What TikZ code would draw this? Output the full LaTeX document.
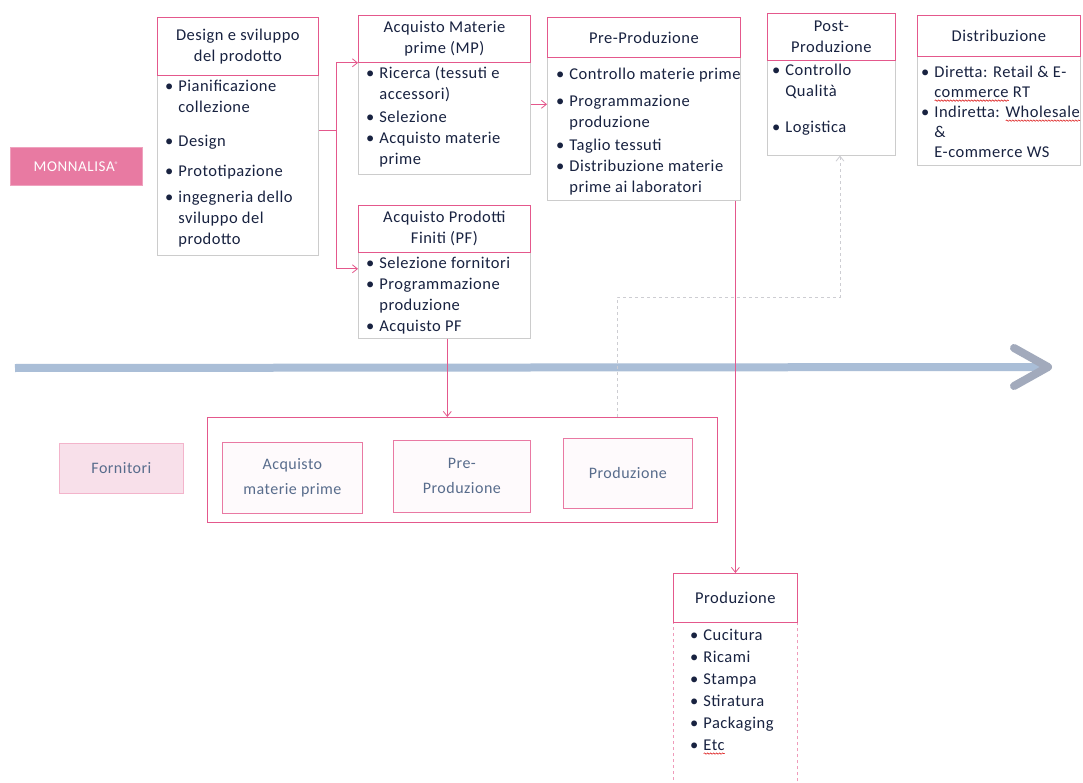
\documentclass[tikz,border=0pt]{standalone}
\usepackage{fontspec}
\setmainfont{Carlito}[LetterSpace=3]
\usetikzlibrary{arrows.meta,decorations.pathmorphing}
\definecolor{pk}{RGB}{228,88,140}
\definecolor{pkfill}{RGB}{232,122,162}
\definecolor{pklight}{RGB}{248,224,234}
\definecolor{navy}{RGB}{24,34,64}
\definecolor{axiscol}{RGB}{170,190,215}
\definecolor{axhead}{RGB}{162,170,188}
\definecolor{gline}{RGB}{205,205,210}
\definecolor{innertxt}{RGB}{88,108,140}
\newcommand{\bodyfont}{\fontsize{16.5}{21}\selectfont}
\newcommand{\bulx}{\makebox[0.8em][l]{\textbullet}}
\newcommand{\hin}{\hspace*{0.8em}}
\newlength{\spw}
\newcommand{\spell}[1]{\settowidth{\spw}{#1}\leavevmode\rlap{\tikz[baseline=0pt,x=1pt,y=1pt]{\draw[red!85!black,line width=0.5pt,decorate,decoration={snake,amplitude=0.7pt,segment length=3pt}] (0pt,-3pt) -- (\spw,-3pt);}}#1}
\begin{document}
\begin{tikzpicture}[x=1pt,y=-1pt,
  hdr/.style={draw=pk,line width=0.8pt,fill=white,anchor=north west,inner sep=2pt,align=center,text=navy,font=\bodyfont},
  bodybox/.style={draw=black!20,line width=0.6pt,anchor=north west,inner sep=0pt},
  btext/.style={anchor=north west,inner sep=0pt,align=left,text=navy,font=\bodyfont},
  conn/.style={draw=pk,line width=0.8pt,-{Straight Barb[length=5pt,width=8pt]}},
  dconn/.style={draw=gline,line width=0.8pt,dashed,-{Straight Barb[length=5pt,width=8pt]}},
  inbox/.style={draw=pk!80,line width=0.8pt,fill=pk!3,anchor=north west,align=center,text=innertxt,font=\fontsize{16}{25}\selectfont},
]
\useasboundingbox (0,0) rectangle (1083,783);
\fill[white] (0,0) rectangle (1083,783);

% MONNALISA
\node[fill=pkfill,draw=pkfill!70,anchor=north west,minimum width=132pt,minimum height=38pt,text=white,font=\fontsize{15}{17}\selectfont] (monna) at (10,147) {\addfontfeature{LetterSpace=4}MONNALISA\raisebox{4pt}{\fontsize{8}{8}\selectfont ®}};

% Design
\node[bodybox,minimum width=161pt,minimum height=180pt] (dbody) at (157,75) {};
\node[hdr,minimum width=161pt,minimum height=58pt] (dhdr) at (157,17) {Design e sviluppo\\del prodotto};
\node[btext] (dtext) at (165,80) {\bulx Pianificazione\\ \hin collezione\\[13pt] \bulx Design\\[9pt] \bulx Prototipazione\\[5pt] \bulx ingegneria dello\\ \hin sviluppo del\\ \hin prodotto};

% Acquisto MP
\node[bodybox,minimum width=172pt,minimum height=112pt] (mpbody) at (358,62) {};
\node[hdr,minimum width=172pt,minimum height=47pt] (mphdr) at (358,15) {Acquisto Materie\\prime (MP)};
\node[btext] (mptext) at (366,66) {\bulx Ricerca (tessuti e\\ \hin accessori)\\[2pt] \bulx Selezione\\ \bulx Acquisto materie\\ \hin prime};

% Acquisto PF
\node[bodybox,minimum width=172pt,minimum height=86pt] (pfbody) at (358,252) {};
\node[hdr,minimum width=172pt,minimum height=47pt] (pfhdr) at (358,205) {Acquisto Prodotti\\Finiti (PF)};
\node[btext] (pftext) at (366,257) {\bulx Selezione fornitori\\ \bulx Programmazione\\ \hin produzione\\ \bulx Acquisto PF};

% Pre-Produzione
\node[bodybox,minimum width=193pt,minimum height=143pt] (ppbody) at (547,57) {};
\node[hdr,minimum width=193pt,minimum height=40pt] (pphdr) at (547,17) {Pre-Produzione};
\node[btext] (pptext) at (556,68) {\bulx Controllo materie prime\\[6pt] \bulx Programmazione\\ \hin produzione\\[2pt] \bulx Taglio tessuti\\ \bulx Distribuzione materie\\ \hin prime ai laboratori};

% Post-Produzione
\node[bodybox,minimum width=128pt,minimum height=95pt] (postbody) at (767,60) {};
\node[hdr,minimum width=128pt,minimum height=47pt] (posthdr) at (767,13) {Post-\\Produzione};
\node[btext] (posttext) at (772,64) {\bulx Controllo\\ \hin Qualità\\[15pt] \bulx Logistica};

% Distribuzione
\node[bodybox,minimum width=163pt,minimum height=109pt] (distbody) at (917,56) {};
\node[hdr,minimum width=163pt,minimum height=41pt] (disthdr) at (917,15) {Distribuzione};
\node[btext,font=\fontsize{16.5}{20}\selectfont] (disttext) at (921,66) {\bulx Diretta: Retail \& E-\\ \hin \spell{commerce} RT\\ \bulx Indiretta: \spell{Wholesale}\\ \hin \&\\ \hin E-commerce WS};

% Produzione (in-house)
\node[draw=pk!60,dashed,line width=0.7pt,anchor=north west,minimum width=124pt,minimum height=161pt,inner sep=0pt] (prodbody) at (673,622) {};
\node[hdr,minimum width=124pt,minimum height=49pt] (prodhdr) at (673,573) {Produzione};
\node[btext] (prodtext) at (690,629) {\bulx Cucitura\\[1pt] \bulx Ricami\\[1pt] \bulx Stampa\\[1pt] \bulx Stiratura\\[1pt] \bulx Packaging\\[1pt] \bulx \spell{Etc}};

% Fornitori
\node[fill=pklight,draw=pk!45,line width=0.8pt,anchor=north west,minimum width=124pt,minimum height=50pt,text=innertxt,font=\fontsize{16}{20}\selectfont] (forn) at (59,443) {Fornitori};
\node[draw=pk,line width=0.8pt,anchor=north west,minimum width=510pt,minimum height=105pt] (cont) at (207,417) {};
\node[inbox,minimum width=140pt,minimum height=71pt] (ia) at (222,442) {Acquisto\\materie prime};
\node[inbox,minimum width=137pt,minimum height=72pt] (ip) at (393,440) {Pre-\\Produzione};
\node[inbox,minimum width=129pt,minimum height=70pt] (ipr) at (563,438) {Produzione};

% timeline arrow
\coordinate (a0) at (15,368);
\coordinate (a1) at (1048,367);
\draw[axiscol,line width=8pt] (a0) -- ([xshift=-4pt]a1);
\draw[axhead,line width=8pt,line cap=round,line join=round] ([shift={(-34,-19)}]a1) -- (a1) -- ([shift={(-34,19)}]a1);

% connectors
\coordinate (j1) at (336,130);
\draw[draw=pk,line width=0.8pt] (dbody.east |- j1) -- (j1);
\draw[conn] (j1) |- (mphdr.south west);
\draw[conn] (j1) |- ([yshift=-16pt]pfhdr.south west);
\draw[conn] ([yshift=14pt]mpbody.east) -- ([yshift=14pt]mpbody.east -| ppbody.west);
\draw[conn] (ppbody.south -| prodhdr.north) -- (prodhdr.north);
\draw[conn] ([xshift=3pt]pfbody.south) -- ([xshift=3pt]pfbody.south |- cont.north);
\coordinate (d1) at (617,297);
\coordinate (d2) at (840,297);
\draw[dconn] (cont.north -| d1) -- (d1) -- (d2) -- (d2 |- postbody.south);
\end{tikzpicture}
\end{document}
